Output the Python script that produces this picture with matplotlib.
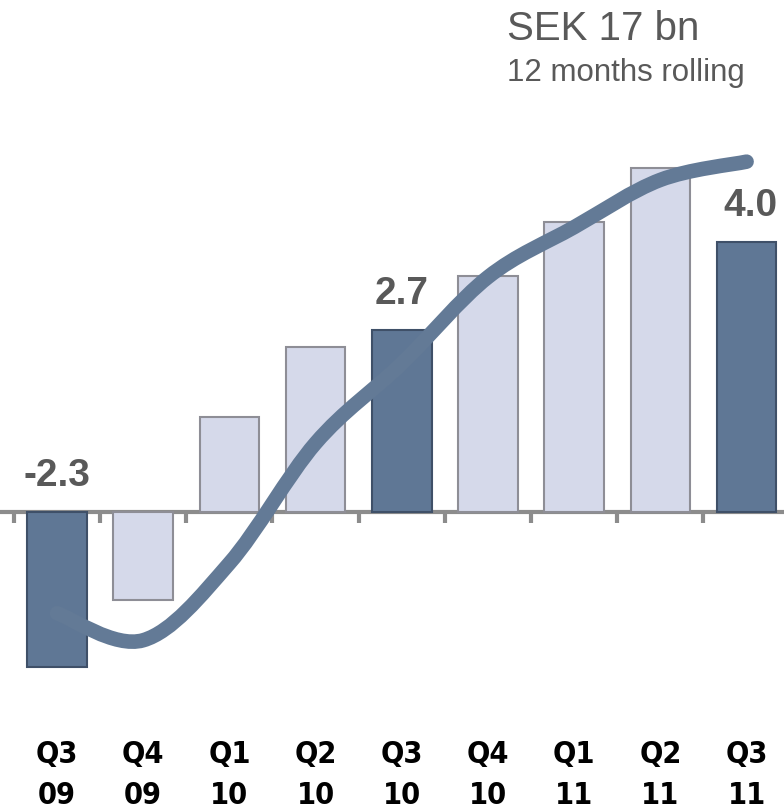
import numpy as np
from matplotlib import pyplot as plt
from matplotlib.path import Path
import matplotlib.patches as mpatches
from matplotlib import font_manager

quarters = ['Q3\n09', 'Q4\n09', 'Q1\n10', 'Q2\n10', 'Q3\n10', 'Q4\n10', 'Q1\n11', 'Q2\n11', 'Q3\n11']
quarter_values = [-2.3, -1.3, 1.4, 2.45, 2.7, 3.5, 4.3, 5.1, 4.0]
rolling_values = [-1.5, -1.9, -0.76, 1.02, 2.2, 3.48, 4.22, 4.92, 5.19]
highlight = [True, False, False, False, True, False, False, False, True]
labelled = {0: '-2.3', 4: '2.7', 8: '4.0'}

dark = '#5f7795'
light = '#d5d9ea'
line_col = '#637a96'
grey_txt = '#595959'

# look for a condensed bold face for the quarter labels (Arial Narrow look)
narrow_fp = None
for f in font_manager.fontManager.ttflist:
    nm = (f.name + ' ' + f.fname).lower()
    if ('narrow' in nm or 'condensed' in nm) and 'bold' in nm and 'oblique' not in nm and 'italic' not in nm:
        narrow_fp = font_manager.FontProperties(fname=f.fname, size=22)
        break
if narrow_fp is None:
    narrow_fp = font_manager.FontProperties(family='Liberation Sans', weight='bold', size=20)

fig = plt.figure(figsize=(7.84, 8.10), dpi=100)
ax = fig.add_axes([0, 0, 1, 1])
ax.set_xlim(-0.661, 8.434)
ax.set_ylim(-4.415, 7.585)
ax.axis('off')

x = np.arange(len(quarters))
for i, v in enumerate(quarter_values):
    if highlight[i]:
        ax.bar(x[i], v, width=0.69, color=dark, edgecolor='#3f5068', linewidth=1.5, zorder=2)
    else:
        ax.bar(x[i], v, width=0.69, color=light, edgecolor='#8e8e96', linewidth=1.5, zorder=2)

# axis line with ticks between the bars
ax.plot([-0.661, 8.434], [0, 0], color='#8c8c8c', lw=3, zorder=1, solid_capstyle='butt')
for t in np.arange(-0.5, 8, 1):
    ax.plot([t, t], [0, -0.17], color='#8c8c8c', lw=3, zorder=1, solid_capstyle='butt')

# smooth rolling line (Catmull-Rom as cubic bezier path)
pts = np.column_stack([x, rolling_values])
verts = [tuple(pts[0])]
codes = [Path.MOVETO]
for i in range(len(pts) - 1):
    p0 = pts[i - 1] if i > 0 else pts[i]
    p1 = pts[i]
    p2 = pts[i + 1]
    p3 = pts[i + 2] if i + 2 < len(pts) else pts[i + 1]
    c1 = p1 + (p2 - p0) / 6
    c2 = p2 - (p3 - p1) / 6
    verts += [tuple(c1), tuple(c2), tuple(p2)]
    codes += [Path.CURVE4] * 3
ax.add_patch(mpatches.PathPatch(Path(verts, codes), facecolor='none', edgecolor=line_col,
                                lw=10.5, capstyle='round', zorder=3))

for i, s in labelled.items():
    v = quarter_values[i]
    y = v + 0.27 if v > 0 else 0.27
    ax.text(x[i] + (0.05 if i == 8 else 0), y, s, ha='center', va='bottom', fontsize=28,
            fontweight='bold', color=grey_txt, family='Liberation Sans', zorder=4)

for i, q in enumerate(quarters):
    top, bot = q.split('\n')
    ax.text(x[i], -3.6, top, ha='center', va='center', fontproperties=narrow_fp, color='black')
    ax.text(x[i], -4.2, bot, ha='center', va='center', fontproperties=narrow_fp, color='black')

fig.text(507 / 784, 1 - 29 / 810, 'SEK 17 bn', ha='left', va='center', fontsize=29,
         color=grey_txt, family='Liberation Sans')
fig.text(507 / 784, 1 - 73 / 810, '12 months rolling', ha='left', va='center', fontsize=22.5,
         color=grey_txt, family='Liberation Sans')

fig.savefig('out.png', dpi=100)
